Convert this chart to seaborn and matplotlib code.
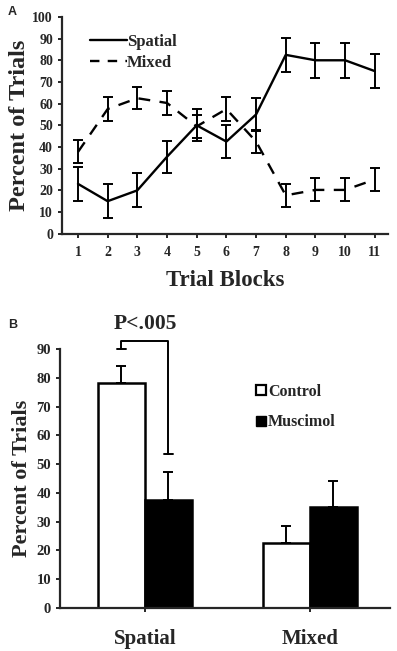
import numpy as np
import pandas as pd
import matplotlib
matplotlib.use("Agg")
import matplotlib.pyplot as plt
import seaborn as sns
from matplotlib.lines import Line2D

# Panel A data
blocks = [1, 2, 3, 4, 5, 6, 7, 8, 9, 10, 11]
spatial_mean = [23, 15, 20, 35.5, 50, 42.5, 55, 82.5, 80, 80, 75]
spatial_err = [8, 7.8, 7.8, 7.3, 7.3, 7.7, 7.5, 7.7, 8, 8, 7.7]
mixed_mean = [37.7, 57.5, 62.5, 60.3, 49.5, 57.5, 42.5, 17.7, 20.2, 20.2, 25]
mixed_err = [5.3, 5.4, 5, 5.4, 5.4, 5.4, 5.2, 5.3, 5.3, 5.3, 5.4]

# Panel B data
strategies = ["Spatial", "Mixed"]
groups = ["Control", "Muscimol"]
control_mean = [78, 22.5]
control_err = [6, 6]
muscimol_mean = [37.7, 35]
muscimol_err = [9.5, 9]

sns.set_style("ticks")
plt.rcParams["font.family"] = ["Liberation Serif", "DejaVu Serif"]
plt.rcParams["font.weight"] = "bold"

fig = plt.figure(figsize=(3.97, 6.51), dpi=100)

# ---------- Panel A ----------
axA = fig.add_axes([0.156, 0.641, 0.821, 0.333])
dfA = pd.DataFrame({
    "block": blocks * 2,
    "pct": spatial_mean + mixed_mean,
    "cond": ["Spatial"] * 11 + ["Mixed"] * 11,
})
sns.lineplot(data=dfA, x="block", y="pct", style="cond", color="black",
             dashes={"Spatial": "", "Mixed": (5, 4)}, linewidth=1.7,
             legend=False, ax=axA)
axA.errorbar(blocks, spatial_mean, yerr=spatial_err, fmt="none",
             ecolor="black", elinewidth=1.4, capsize=3.5, capthick=1.4)
axA.errorbar(blocks, mixed_mean, yerr=mixed_err, fmt="none",
             ecolor="black", elinewidth=1.4, capsize=3.5, capthick=1.4)
axA.set_xlim(0.46, 11.44)
axA.set_ylim(0, 100)
axA.set_xticks(blocks)
axA.set_yticks(range(0, 101, 10))
axA.tick_params(labelsize=10, width=1.4, length=3)
axA.tick_params(axis="x", pad=6)
axA.set_xlabel("Trial Blocks", fontsize=16.5, fontweight="bold", labelpad=8)
axA.set_ylabel("Percent of Trials", fontsize=17.5, fontweight="bold", labelpad=2)
for s in ["top", "right"]:
    axA.spines[s].set_visible(False)
for s in ["left", "bottom"]:
    axA.spines[s].set_linewidth(1.6)
handlesA = [Line2D([], [], color="black", lw=1.7),
            Line2D([], [], color="black", lw=1.7, dashes=(4, 3.5))]
axA.legend(handlesA, ["Spatial", "Mixed"], loc="upper left",
           bbox_to_anchor=(0.04, 0.99), frameon=False, handlelength=2.2,
           handletextpad=0.0, labelspacing=0.3,
           prop={"weight": "bold", "size": 12})
fig.text(0.02, 0.981, "A", fontsize=9, fontweight="bold",
         family="Liberation Sans", va="center")

# ---------- Panel B ----------
axB = fig.add_axes([0.151, 0.066, 0.831, 0.398])
dfB = pd.DataFrame({
    "strategy": strategies * 2,
    "pct": control_mean + muscimol_mean,
    "group": ["Control"] * 2 + ["Muscimol"] * 2,
})
sns.barplot(data=dfB, x="strategy", y="pct", hue="group",
            order=strategies, hue_order=groups,
            palette={"Control": "white", "Muscimol": "black"},
            edgecolor="black", linewidth=1.8, width=0.57, errorbar=None,
            legend=False, ax=axB)
for bars, errs in zip(axB.containers, [control_err, muscimol_err]):
    xs = [b.get_x() + b.get_width() / 2 for b in bars]
    hs = [b.get_height() for b in bars]
    axB.errorbar(xs, hs, yerr=[np.zeros(len(errs)), errs], fmt="none",
                 ecolor="black", elinewidth=1.4, capsize=3.5, capthick=1.4)

# significance bracket
cx = [b.get_x() + b.get_width() / 2 for b in axB.containers[0]][0]
mx = [b.get_x() + b.get_width() / 2 for b in axB.containers[1]][0]
axB.plot([cx, cx, mx, mx], [90, 92.8, 92.8, 53.4], color="black", lw=1.4,
         clip_on=False)
axB.plot([cx - 0.025, cx + 0.025], [90, 90], color="black", lw=1.4, clip_on=False)
axB.plot([mx - 0.025, mx + 0.025], [53.4, 53.4], color="black", lw=1.4, clip_on=False)
axB.text((cx + mx) / 2 + 0.005, 98.5, "P<.005", ha="center", va="center",
         fontsize=15.5, fontweight="bold", clip_on=False)

axB.set_xlim(-0.515, 1.485)
axB.set_ylim(0, 90)
axB.set_yticks(range(0, 91, 10))
axB.tick_params(axis="y", labelsize=10.5, width=1.4, length=3)
axB.tick_params(axis="x", labelsize=15, width=1.4, length=3, pad=12)
axB.set_xlabel("")
axB.set_ylabel("Percent of Trials", fontsize=16, fontweight="bold", labelpad=3)
for s in ["top", "right"]:
    axB.spines[s].set_visible(False)
for s in ["left", "bottom"]:
    axB.spines[s].set_linewidth(1.6)
handlesB = [Line2D([], [], marker="s", ls="none", markersize=7,
                   markerfacecolor="white", markeredgecolor="black", markeredgewidth=1.6),
            Line2D([], [], marker="s", ls="none", markersize=7,
                   markerfacecolor="black", markeredgecolor="black")]
axB.legend(handlesB, groups, loc="upper left", bbox_to_anchor=(0.55, 0.92),
           frameon=False, handlelength=0.7, handletextpad=0.05,
           labelspacing=0.9, prop={"weight": "bold", "size": 11.5})
fig.text(0.02, 0.500, "B", fontsize=9, fontweight="bold",
         family="Liberation Sans", va="center")

fig.savefig("out.png", dpi=100)
